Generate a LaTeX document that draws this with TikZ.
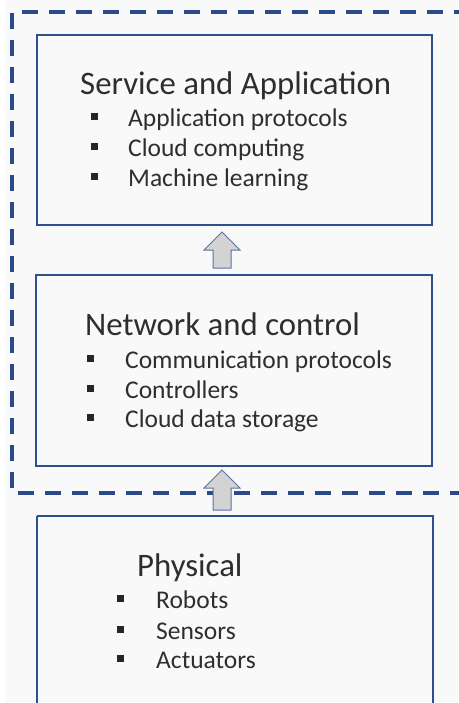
\documentclass[tikz,border=0pt]{standalone}
\usepackage{fontspec}
\setmainfont{Carlito}
\definecolor{boxblue}{HTML}{2F4F8F}
\definecolor{dashblue}{HTML}{2B4A8C}
\definecolor{txt}{HTML}{2E2E2E}
\definecolor{arrowfill}{HTML}{D3D3D3}
\definecolor{arrowline}{HTML}{5B73A8}
\definecolor{bg}{HTML}{F9F9F9}
\tikzset{
  layerbox/.style={draw=boxblue, line width=2pt},
  titletext/.style={anchor=base west, inner sep=0pt, text=txt, font=\fontsize{32.8}{38}\selectfont},
  itemtext/.style={anchor=base west, inner sep=0pt, text=txt, font=\fontsize{25.5}{30}\selectfont},
  bulletsq/.style={fill=black!85, draw=none, minimum size=7pt, inner sep=0pt},
  blockarrow/.style={draw=arrowline, fill=arrowfill, line width=1pt, line join=miter},
  groupline/.style={draw=dashblue, line width=3.5pt, dash pattern=on 16pt off 11pt}
}
\begin{document}
\begin{tikzpicture}[x=1pt,y=-1pt]
\useasboundingbox (0,0) rectangle (458,703);
\fill[bg] (6,0) rectangle (458,703);
% dashed group
\coordinate (gTR) at (470,12);
\coordinate (gTL) at (12,12);
\coordinate (gBL) at (12,493);
\coordinate (gBR) at (470,493);
\draw[groupline] (gTR) -- (gTL) -- (gBL) -- (gBR);
% boxes
\draw[layerbox] (37,35) rectangle (432,225);
\draw[layerbox] (36,275) rectangle (432,466);
\draw[layerbox] (37,516) -- (37,710) (433,710) -- (433,516) -- (37,516);
% arrows
\draw[blockarrow] (222,232) -- (240,250) -- (231,250) -- (231,268) -- (213,268) -- (213,250) -- (204,250) -- cycle;
\draw[blockarrow] (222,470) -- (240,488) -- (231,488) -- (231,510) -- (213,510) -- (213,488) -- (204,488) -- cycle;
% box 1 text
\node[titletext] (t1) at (80,95) {Service and Application};
\node[bulletsq] (b11) at (94,117) {};
\node[itemtext] (i11) at (128,127) {Application protocols};
\node[bulletsq] (b12) at (94,147) {};
\node[itemtext] (i12) at (128,157) {Cloud computing};
\node[bulletsq] (b13) at (94,177) {};
\node[itemtext] (i13) at (128,187) {Machine learning};
% box 2 text
\node[titletext] (t2) at (85,335) {Network and control};
\node[bulletsq] (b21) at (90,358) {};
\node[itemtext] (i21) at (125,368) {Communication protocols};
\node[bulletsq] (b22) at (90,388) {};
\node[itemtext] (i22) at (125,398) {Controllers};
\node[bulletsq] (b23) at (90,417) {};
\node[itemtext] (i23) at (125,427) {Cloud data storage};
% box 3 text
\node[titletext] (t3) at (137,576) {Physical};
\node[bulletsq] (b31) at (120,598) {};
\node[itemtext] (i31) at (156,608) {Robots};
\node[bulletsq] (b32) at (120,629) {};
\node[itemtext] (i32) at (156,639) {Sensors};
\node[bulletsq] (b33) at (120,658) {};
\node[itemtext] (i33) at (156,668) {Actuators};
\end{tikzpicture}
\end{document}
